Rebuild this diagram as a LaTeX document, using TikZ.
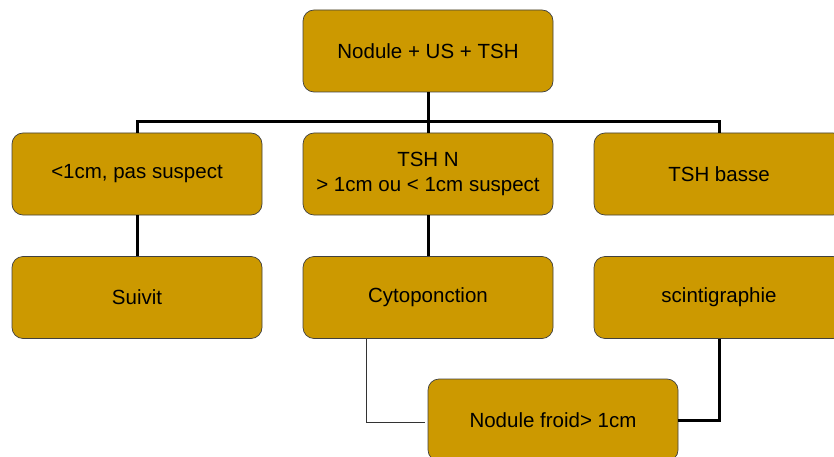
\documentclass[tikz,border=0pt]{standalone}
\usepackage{fontspec}
\setmainfont{Liberation Sans}
\begin{document}
\begin{tikzpicture}[x=1pt,y=1pt,
  box/.style={draw=black!75,line width=0.7pt,fill=boxfill,rounded corners=11pt,
    minimum width=250pt,minimum height=82pt,align=center,inner sep=0pt,
    font=\fontsize{20.5}{25}\selectfont,text=black},
  thick line/.style={line width=3pt,draw=black},
  thin line/.style={line width=0.6pt,draw=black!80}]
\definecolor{boxfill}{HTML}{CC9900}
\useasboundingbox (0,0) rectangle (834,-457);
\begin{scope}
\clip (0,0) rectangle (834,-457);
\node[box] (top) at (428,-51) {Nodule + US + TSH};
\node[box] (l1) at (137,-174) {<1cm, pas suspect};
\node[box] (m1) at (428,-174) {TSH N\\> 1cm ou < 1cm suspect};
\node[box] (r1) at (719,-174) {TSH basse};
\node[box] (l2) at (137,-297.5) {Suivit};
\node[box] (m2) at (428,-297.5) {Cytoponction};
\node[box] (r2) at (719,-297.5) {scintigraphie};
\node[box] (fr) at (553,-420) {Nodule froid> 1cm};
\coordinate (bus) at (0,-122);
\end{scope}
\draw[thick line] (top.south) -- (m1.north);
\draw[thick line] (l1.north) -- (l1 |- bus) -- (r1 |- bus) -- (r1.north);
\draw[thick line] (l1.south) -- (l2.north);
\draw[thick line] (m1.south) -- (m2.north);
\draw[thick line] (r2.south) |- (fr.east);
\draw[thin line] ([xshift=-62pt]m2.south) |- ([xshift=-3pt,yshift=-2pt]fr.west);
\end{tikzpicture}
\end{document}
